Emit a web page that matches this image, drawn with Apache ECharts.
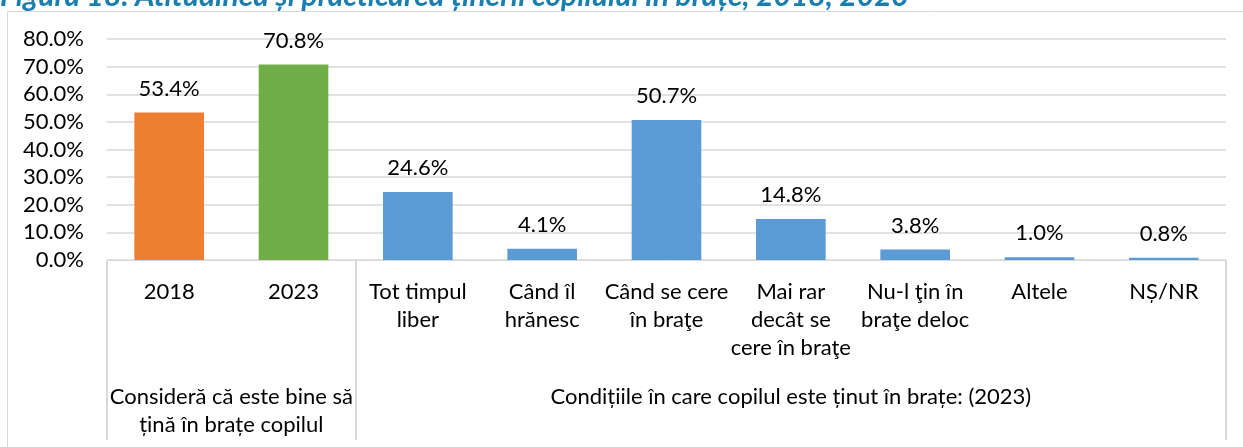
<!DOCTYPE html>
<html>
<head>
<meta charset="utf-8">
<script src="https://cdn.jsdelivr.net/npm/echarts@6/dist/echarts.min.js"></script>
<style>
    html, body { margin: 0; padding: 0; background: #fff; }
    #chart { width: 1243px; height: 447px; }
</style>
</head>
<body>
<div id="chart"></div>
<script>
    var titleText = 'Figura 18. Atitudinea și practicarea ținerii copilului în brațe, 2018, 2023';

    var categories = ['2018', '2023', 'Tot timpul\nliber', 'Când îl\nhrănesc', 'Când se cere\nîn braţe',
        'Mai rar\ndecât se\ncere în braţe', 'Nu-l ţin în\nbraţe deloc', 'Altele', 'NȘ/NR'];
    var values = [53.4, 70.8, 24.6, 4.1, 50.7, 14.8, 3.8, 1.0, 0.8];

    var groups = ['Consideră că este bine să\nțină în brațe copilul', 'Condițiile în care copilul este ținut în brațe: (2023)'];
    var groupSizes = [2, 7];
    var yTicks = [0, 10, 20, 30, 40, 50, 60, 70, 80];

    // culori: 2018, 2023, restul
    var barColors = ['#ED7D31', '#70AD47', '#5B9BD5'];
    var font = 'Lato, "Noto Sans", sans-serif';
    var fs = 22;

    // pozitiile grupurilor pe axa de jumatati de categorie
    var groupCenters = [];
    var start = 0;
    for (var i = 0; i < groupSizes.length; i++) {
        groupCenters.push(start * 2 + groupSizes[i]);
        start += groupSizes[i];
    }
    var groupBounds = [0];
    var acc = 0;
    for (var j = 0; j < groupSizes.length - 1; j++) {
        acc += groupSizes[j];
        groupBounds.push(acc);
    }

    var chart = echarts.init(document.getElementById('chart'));
    var option = {
        backgroundColor: '#fff',
        animation: false,
        textStyle: { fontFamily: font },
        graphic: [{
            type: 'rect',
            shape: { x: 7.5, y: 11.5, width: 1300, height: 600 },
            style: { fill: 'none', stroke: '#D9D9D9', lineWidth: 1 },
            silent: true
        }, {
            type: 'text',
            x: 0,
            y: -4,
            style: {
                text: titleText,
                fill: '#1a7fb0',
                font: 'italic bold 30px ' + font,
                verticalAlign: 'middle'
            },
            silent: true
        }],
        grid: { left: 107, right: 17, top: 39, bottom: 187 },
        xAxis: [{
            type: 'category',
            data: categories,
            axisLine: { lineStyle: { color: '#D9D9D9', width: 1 } },
            axisTick: {
                show: true,
                length: 180,
                interval: function (index) { return groupBounds.indexOf(index) >= 0; },
                lineStyle: { color: '#D9D9D9', width: 2 }
            },
            axisLabel: {
                interval: 0,
                color: '#000',
                fontSize: fs,
                lineHeight: 28,
                margin: 18
            }
        }, {
            type: 'value',
            min: 0,
            max: groupSizes.reduce(function (a, b) { return a + b; }, 0) * 2,
            interval: 1,
            position: 'bottom',
            axisLine: { show: false },
            axisTick: { show: false },
            splitLine: { show: false },
            axisLabel: {
                color: '#000',
                fontSize: fs,
                lineHeight: 28,
                margin: 123,
                formatter: function (v) {
                    var k = groupCenters.indexOf(v);
                    return k >= 0 ? groups[k] : '';
                }
            }
        }],
        yAxis: {
            type: 'value',
            min: yTicks[0],
            max: yTicks[yTicks.length - 1],
            interval: yTicks[1] - yTicks[0],
            axisLine: { show: false },
            axisTick: { show: false },
            splitLine: { lineStyle: { color: '#D9D9D9', width: 1.5 } },
            axisLabel: {
                color: '#000',
                fontSize: fs,
                margin: 23,
                formatter: function (v) { return v.toFixed(1) + '%'; }
            }
        },
        series: [{
            type: 'bar',
            data: values,
            xAxisIndex: 0,
            barCategoryGap: '44%',
            itemStyle: {
                color: function (p) {
                    return barColors[Math.min(p.dataIndex, barColors.length - 1)];
                }
            },
            label: {
                show: true,
                position: 'top',
                distance: 13,
                color: '#000',
                fontSize: fs,
                formatter: function (p) { return p.value.toFixed(1) + '%'; }
            }
        }]
    };
    chart.setOption(option);
</script>
</body>
</html>
